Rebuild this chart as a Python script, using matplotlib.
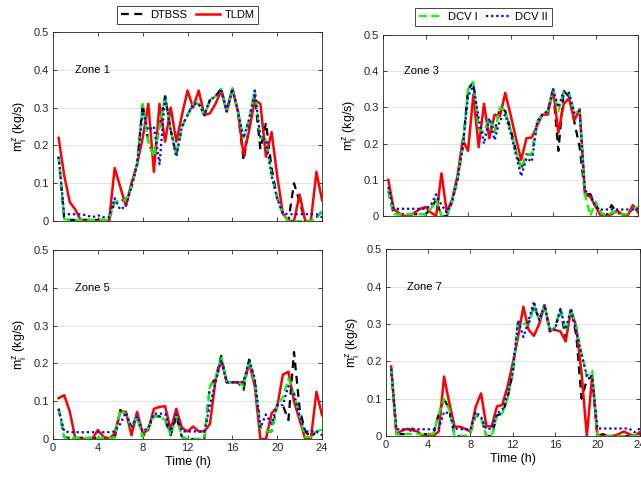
import matplotlib
matplotlib.use("Agg")
import matplotlib.pyplot as plt

plt.rcParams['font.family'] = ['Liberation Sans', 'DejaVu Sans']
plt.rcParams['mathtext.fontset'] = 'custom'
plt.rcParams['mathtext.rm'] = 'Liberation Sans'

hours = [0.5, 1.0, 1.5, 2.0, 2.5, 3.0, 3.5, 4.0, 4.5, 5.0, 5.5, 6.0,
         6.5, 7.0, 7.5, 8.0, 8.5, 9.0, 9.5, 10.0, 10.5, 11.0, 11.5, 12.0,
         12.5, 13.0, 13.5, 14.0, 14.5, 15.0, 15.5, 16.0, 16.5, 17.0, 17.5, 18.0,
         18.5, 19.0, 19.5, 20.0, 20.5, 21.0, 21.5, 22.0, 22.5, 23.0, 23.5, 24.0]

# zone 1
z1_dtbss = [0.17, 0.005, 0.003, 0.003, 0.003, 0.003, 0.003, 0.003, 0.003, 0.003, 0.05, 0.055,
            0.055, 0.09, 0.15, 0.31, 0.21, 0.17, 0.25, 0.33, 0.24, 0.175, 0.25, 0.28,
            0.31, 0.31, 0.28, 0.32, 0.33, 0.35, 0.29, 0.35, 0.29, 0.16, 0.25, 0.33,
            0.19, 0.26, 0.14, 0.06, 0.02, 0.0, 0.10, 0.05, 0.0, 0.0, 0.01, 0.025]
z1_tldm = [0.22, 0.12, 0.05, 0.03, 0.0, 0.0, 0.0, 0.0, 0.0, 0.0, 0.14, 0.09,
           0.04, 0.10, 0.15, 0.22, 0.31, 0.13, 0.31, 0.21, 0.30, 0.21, 0.28, 0.345,
           0.30, 0.345, 0.28, 0.285, 0.31, 0.345, 0.29, 0.35, 0.29, 0.175, 0.24, 0.32,
           0.31, 0.17, 0.235, 0.12, 0.02, 0.0, 0.0, 0.07, 0.0, 0.0, 0.13, 0.055]
z1_dcv1 = [0.17, 0.005, 0.003, 0.003, 0.003, 0.003, 0.003, 0.003, 0.003, 0.003, 0.05, 0.055,
           0.055, 0.09, 0.15, 0.31, 0.21, 0.17, 0.25, 0.33, 0.24, 0.175, 0.25, 0.28,
           0.31, 0.31, 0.28, 0.32, 0.33, 0.35, 0.29, 0.35, 0.29, 0.22, 0.27, 0.345,
           0.22, 0.215, 0.12, 0.06, 0.02, 0.0, 0.0, 0.0, 0.0, 0.0, 0.01, 0.025]
z1_dcv2 = [0.17, 0.018, 0.018, 0.018, 0.018, 0.015, 0.01, 0.015, 0.01, 0.01, 0.06, 0.03,
           0.04, 0.09, 0.15, 0.29, 0.24, 0.25, 0.15, 0.33, 0.24, 0.17, 0.25, 0.28,
           0.31, 0.31, 0.28, 0.32, 0.33, 0.35, 0.29, 0.35, 0.29, 0.22, 0.27, 0.345,
           0.22, 0.215, 0.12, 0.06, 0.02, 0.018, 0.018, 0.018, 0.018, 0.018, 0.018, 0.01]

# zone 3
z3_dtbss = [0.07, 0.005, 0.005, 0.005, 0.005, 0.005, 0.005, 0.005, 0.02, 0.045, 0.0, 0.0,
            0.04, 0.10, 0.19, 0.35, 0.37, 0.24, 0.23, 0.27, 0.23, 0.30, 0.29, 0.24,
            0.18, 0.13, 0.17, 0.17, 0.26, 0.28, 0.29, 0.35, 0.18, 0.345, 0.33, 0.26,
            0.19, 0.06, 0.06, 0.03, 0.01, 0.0, 0.03, 0.01, 0.005, 0.005, 0.02, 0.025]
z3_tldm = [0.10, 0.02, 0.008, 0.0, 0.0, 0.01, 0.02, 0.025, 0.01, 0.0, 0.118, 0.01,
           0.045, 0.11, 0.21, 0.18, 0.335, 0.19, 0.31, 0.215, 0.28, 0.275, 0.34, 0.28,
           0.215, 0.155, 0.215, 0.217, 0.25, 0.28, 0.28, 0.35, 0.23, 0.31, 0.325, 0.265,
           0.295, 0.058, 0.054, 0.026, 0.0, 0.0, 0.005, 0.015, 0.005, 0.0, 0.03, 0.01]
z3_dcv1 = [0.07, 0.005, 0.005, 0.005, 0.005, 0.005, 0.005, 0.005, 0.02, 0.045, 0.0, 0.0,
           0.04, 0.10, 0.19, 0.35, 0.37, 0.24, 0.23, 0.27, 0.23, 0.30, 0.29, 0.24,
           0.18, 0.13, 0.17, 0.17, 0.26, 0.28, 0.29, 0.35, 0.29, 0.345, 0.34, 0.285,
           0.29, 0.06, 0.0, 0.04, 0.01, 0.0, 0.01, 0.01, 0.005, 0.005, 0.02, 0.025]
z3_dcv2 = [0.08, 0.02, 0.02, 0.02, 0.02, 0.02, 0.02, 0.02, 0.03, 0.06, 0.03, 0.01,
           0.04, 0.10, 0.19, 0.33, 0.36, 0.27, 0.20, 0.27, 0.21, 0.265, 0.28, 0.23,
           0.17, 0.11, 0.16, 0.15, 0.26, 0.28, 0.29, 0.35, 0.30, 0.345, 0.34, 0.285,
           0.29, 0.07, 0.06, 0.025, 0.018, 0.018, 0.018, 0.018, 0.018, 0.018, 0.018, 0.02]

# zone 5
z5_dtbss = [0.08, 0.005, 0.003, 0.003, 0.003, 0.003, 0.003, 0.003, 0.003, 0.003, 0.003, 0.077,
            0.065, 0.03, 0.06, 0.005, 0.03, 0.06, 0.06, 0.05, 0.01, 0.06, 0.005, 0.0,
            0.0, 0.0, 0.0, 0.14, 0.16, 0.22, 0.15, 0.15, 0.15, 0.13, 0.21, 0.15,
            0.03, 0.02, 0.02, 0.09, 0.09, 0.05, 0.23, 0.08, 0.02, 0.005, 0.02, 0.025]
z5_tldm = [0.108, 0.116, 0.072, 0.0, 0.0, 0.0, 0.0, 0.024, 0.006, 0.0, 0.015, 0.072,
           0.072, 0.01, 0.072, 0.015, 0.024, 0.08, 0.085, 0.087, 0.024, 0.08, 0.03, 0.02,
           0.033, 0.02, 0.02, 0.04, 0.156, 0.21, 0.15, 0.15, 0.15, 0.15, 0.20, 0.14,
           0.0, 0.0, 0.068, 0.085, 0.17, 0.178, 0.10, 0.05, 0.0, 0.0, 0.125, 0.063]
z5_dcv1 = [0.08, 0.005, 0.003, 0.003, 0.003, 0.003, 0.003, 0.003, 0.003, 0.003, 0.003, 0.077,
           0.065, 0.03, 0.06, 0.005, 0.03, 0.06, 0.06, 0.05, 0.01, 0.06, 0.005, 0.0,
           0.0, 0.0, 0.0, 0.14, 0.16, 0.22, 0.15, 0.15, 0.15, 0.14, 0.21, 0.15,
           0.03, 0.02, 0.02, 0.09, 0.11, 0.16, 0.12, 0.06, 0.005, 0.005, 0.02, 0.025]
z5_dcv2 = [0.08, 0.02, 0.018, 0.018, 0.018, 0.018, 0.018, 0.018, 0.018, 0.018, 0.02, 0.04,
           0.07, 0.03, 0.06, 0.02, 0.03, 0.067, 0.067, 0.067, 0.02, 0.065, 0.02, 0.02,
           0.02, 0.02, 0.02, 0.09, 0.15, 0.21, 0.15, 0.15, 0.15, 0.15, 0.21, 0.16,
           0.03, 0.065, 0.04, 0.09, 0.09, 0.14, 0.12, 0.06, 0.02, 0.02, 0.02, 0.01]

# zone 7
z7_dtbss = [0.18, 0.005, 0.005, 0.005, 0.02, 0.005, 0.005, 0.005, 0.005, 0.06, 0.10, 0.07,
            0.0, 0.0, 0.0, 0.01, 0.055, 0.05, 0.0, 0.0, 0.055, 0.06, 0.10, 0.17,
            0.30, 0.30, 0.30, 0.35, 0.31, 0.35, 0.28, 0.29, 0.34, 0.26, 0.34, 0.27,
            0.10, 0.15, 0.16, 0.0, 0.005, 0.0, 0.0, 0.0, 0.0, 0.0, 0.0, 0.005]
z7_tldm = [0.186, 0.005, 0.014, 0.019, 0.016, 0.012, 0.0, 0.0, 0.0, 0.012, 0.159, 0.088,
           0.025, 0.025, 0.019, 0.012, 0.079, 0.114, 0.027, 0.025, 0.079, 0.083, 0.132, 0.195,
           0.266, 0.346, 0.284, 0.268, 0.30, 0.35, 0.284, 0.284, 0.28, 0.253, 0.337, 0.293,
           0.168, 0.0, 0.159, 0.0, 0.0, 0.0, 0.0, 0.005, 0.012, 0.005, 0.0, 0.01]
z7_dcv1 = [0.18, 0.005, 0.005, 0.005, 0.005, 0.005, 0.005, 0.005, 0.005, 0.06, 0.10, 0.07,
           0.0, 0.0, 0.0, 0.01, 0.055, 0.05, 0.0, 0.0, 0.055, 0.06, 0.10, 0.17,
           0.30, 0.30, 0.30, 0.35, 0.31, 0.35, 0.28, 0.29, 0.34, 0.28, 0.34, 0.29,
           0.22, 0.16, 0.175, 0.0, 0.0, 0.0, 0.0, 0.0, 0.0, 0.0, 0.0, 0.005]
z7_dcv2 = [0.18, 0.018, 0.018, 0.018, 0.018, 0.018, 0.018, 0.018, 0.018, 0.02, 0.065, 0.06,
           0.02, 0.018, 0.018, 0.018, 0.065, 0.05, 0.018, 0.02, 0.06, 0.07, 0.11, 0.17,
           0.31, 0.265, 0.31, 0.36, 0.31, 0.35, 0.285, 0.285, 0.34, 0.285, 0.34, 0.28,
           0.22, 0.16, 0.16, 0.02, 0.02, 0.02, 0.02, 0.02, 0.02, 0.02, 0.01, 0.02]

zones = ["Zone 1", "Zone 3", "Zone 5", "Zone 7"]
data = [(z1_dtbss, z1_tldm, z1_dcv1, z1_dcv2),
        (z3_dtbss, z3_tldm, z3_dcv1, z3_dcv2),
        (z5_dtbss, z5_tldm, z5_dcv1, z5_dcv2),
        (z7_dtbss, z7_tldm, z7_dcv1, z7_dcv2)]

positions = [[0.0827, 0.5386, 0.4197, 0.3946],
             [0.5975, 0.549, 0.398, 0.378],
             [0.0827, 0.0835, 0.4197, 0.3946],
             [0.602, 0.0898, 0.396, 0.390]]

fig = plt.figure(figsize=(6.41, 4.79), dpi=100)
edge = '#262626'
handles = None
for k in range(4):
    ax = fig.add_axes(positions[k])
    dtbss, tldm, dcv1, dcv2 = data[k]
    l1, = ax.plot(hours, dtbss, color='k', lw=1.6, ls='--', dashes=(3.5, 2.5), label='DTBSS')
    l2, = ax.plot(hours, tldm, color='#ff0000', lw=1.8, label='TLDM')
    l3, = ax.plot(hours, dcv1, color='#00ff00', lw=1.6, ls='--', dashes=(3.5, 2.0), label='DCV I')
    l4, = ax.plot(hours, dcv2, color='#0000ff', lw=1.6, ls=':', dashes=(1, 1.3), label='DCV II')
    handles = [l1, l2, l3, l4]
    ax.set_xlim(0, 24)
    ax.set_ylim(0, 0.5)
    ax.set_xticks([0, 4, 8, 12, 16, 20, 24])
    ax.set_yticks([0, 0.1, 0.2, 0.3, 0.4, 0.5])
    ax.set_yticklabels(['0', '0.1', '0.2', '0.3', '0.4', '0.5'])
    ax.grid(axis='y', color='#e3e3e3', lw=0.7)
    ax.set_axisbelow(True)
    ax.tick_params(direction='in', length=3, width=0.6, labelsize=8, colors=edge,
                   top=True, right=True, pad=3)
    for s in ax.spines.values():
        s.set_color(edge)
        s.set_linewidth(0.6)
    ax.text(2, 0.4, zones[k], fontsize=8, va='center', ha='left')
    ax.set_ylabel(r'm$_\mathregular{i}^\mathregular{z}$ (kg/s)', fontsize=9, labelpad=3)
    if k < 2:
        ax.set_xticklabels([])
    else:
        ax.set_xlabel('Time (h)', fontsize=9, labelpad=2)

leg_kw = dict(ncol=2, fontsize=8, frameon=True, fancybox=False, edgecolor=edge,
              framealpha=1, handlelength=2.2, columnspacing=0.8, handletextpad=0.4,
              borderpad=0.35, loc='center')
leg1 = fig.legend(handles[:2], ['DTBSS', 'TLDM'], bbox_to_anchor=(0.293, 0.968), **leg_kw)
leg1.get_frame().set_linewidth(0.6)
leg2 = fig.legend(handles[2:], ['DCV I', 'DCV II'], bbox_to_anchor=(0.754, 0.964), **leg_kw)
leg2.get_frame().set_linewidth(0.6)

fig.savefig('out.png', dpi=100)
